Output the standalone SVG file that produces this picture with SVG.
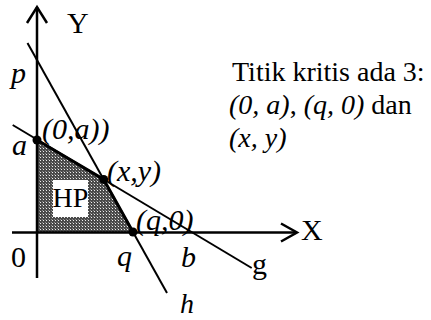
<svg xmlns="http://www.w3.org/2000/svg" width="431" height="320" viewBox="0 0 431 320">
<style>
  .t { font-family: "Liberation Serif", "Times New Roman", serif; fill: #000; }
  .i { font-style: italic; }
  .f30 { font-size: 30px; }
  .f28 { font-size: 28px; }
  .ax { stroke: #000; stroke-width: 2.5; fill: none; }
  .ln { stroke: #000; stroke-width: 2; fill: none; }
  .bd { stroke: #000; stroke-width: 3; fill: none; stroke-linejoin: round; }
</style>
<defs>
  <pattern id="dots" patternUnits="userSpaceOnUse" width="3" height="3">
    <rect width="3" height="3" fill="#4a4a4a"/>
    <rect x="1" y="1" width="1" height="1" fill="#eee"/>
    <rect x="0" y="0" width="1" height="1" fill="#8a8a8a"/>
  </pattern>
</defs>
<rect width="431" height="320" fill="#fff"/>

<g id="region">
  <polygon points="37,140 103.7,179.4 133,232 37,232" fill="url(#dots)"/>
  <rect x="53" y="180" width="35" height="37" fill="#fff"/>
  <text class="t f28" x="70.5" y="207" text-anchor="middle">HP</text>
</g>

<g id="connectors">
  <line class="ln" x1="27.5" y1="43" x2="167" y2="293"/>
  <line class="ln" x1="12.7" y1="125" x2="251.7" y2="268"/>
  <polyline class="bd" points="37,140 103.7,179.4 133,232"/>
</g>

<g id="axis-y">
  <line class="ax" x1="37" y1="278" x2="37" y2="7"/>
  <polyline class="ax" points="27,23 37,7 47,23"/>
  <text class="t f30" x="67" y="33">Y</text>
</g>

<g id="axis-x">
  <line class="ax" x1="12" y1="232.5" x2="297" y2="232.5"/>
  <polyline class="ax" points="281,223.5 297,232.5 281,241.5"/>
  <text class="t f30" x="301" y="240">X</text>
</g>

<g id="point-0a">
  <circle cx="37" cy="140" r="4.5" fill="#000"/>
  <text class="t i f30" x="42" y="139">(0,a))</text>
</g>
<g id="point-xy">
  <circle cx="103.7" cy="179.4" r="4.5" fill="#000"/>
  <text class="t i f30" x="107" y="181">(x,y)</text>
</g>
<g id="point-q0">
  <circle cx="133" cy="232" r="4.5" fill="#000"/>
  <text class="t i f30" x="136" y="230">(q,0)</text>
</g>

<g id="labels">
  <text class="t i f30" x="11" y="83">p</text>
  <text class="t i f30" x="12" y="155">a</text>
  <text class="t f30" x="11" y="267">0</text>
  <text class="t i f30" x="117" y="266">q</text>
  <text class="t i f30" x="181" y="267">b</text>
  <text class="t i f28" x="180" y="313">h</text>
  <text class="t f30" x="252" y="274">g</text>
</g>

<g id="note">
  <text class="t f28" x="232" y="81">Titik kritis ada 3:</text>
  <text class="t f28" x="229" y="114"><tspan class="i">(0, a)</tspan>, <tspan class="i">(q, 0)</tspan> dan</text>
  <text class="t i f28" x="229" y="147">(x, y)</text>
</g>
</svg>
